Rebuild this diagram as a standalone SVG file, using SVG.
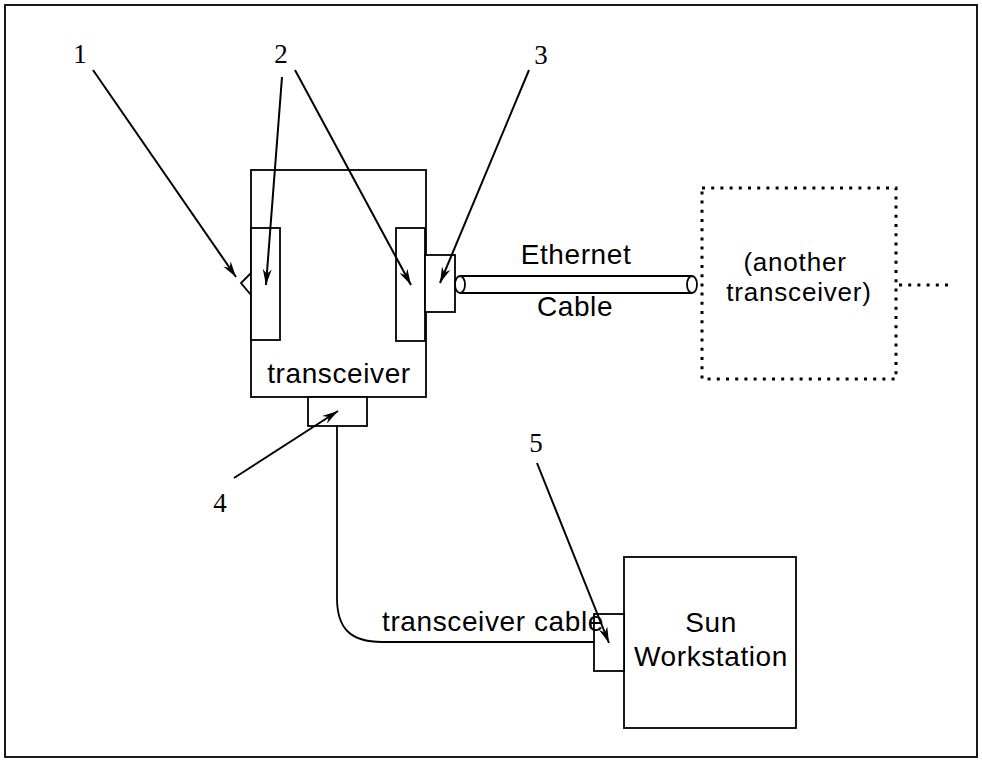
<svg xmlns="http://www.w3.org/2000/svg" width="982" height="760" viewBox="0 0 982 760">
<style>
.box{fill:#fff;stroke:#000;stroke-width:1.8}
.lbl{font-family:"Liberation Sans",Arial,sans-serif;font-size:28px;letter-spacing:0.6px;fill:#000;text-anchor:middle}
.sm{font-size:26px;letter-spacing:0.8px}
.num{font-family:"Liberation Serif","Times New Roman",serif;font-size:27px;fill:#000;text-anchor:middle}
.arr{fill:none;stroke:#000;stroke-width:2;marker-end:url(#ah)}
.dot{fill:none;stroke:#000;stroke-width:3;stroke-dasharray:3 6.2}
</style>
<defs>
<marker id="ah" markerUnits="userSpaceOnUse" markerWidth="20" markerHeight="12" viewBox="-17 -6 18 12" refX="0" refY="0" orient="auto">
<path d="M0,0 L-16,-4.5 L-11,0 L-16,4.5 Z" fill="#000"/>
</marker>
</defs>
<rect x="5" y="5" width="972" height="752" fill="#fff" stroke="#000" stroke-width="1.8"/>
<g id="transceiver">
<rect class="box" x="251" y="170" width="175" height="227"/>
<rect class="box" x="251" y="228" width="29" height="112"/>
<rect class="box" x="396" y="228" width="29" height="113"/>
<polyline points="251,273 241,283 251,295" fill="none" stroke="#000" stroke-width="1.8"/>
<text class="lbl" x="339" y="383">transceiver</text>
</g>
<g id="eth-connector"><rect class="box" x="425" y="255" width="30" height="57"/></g>
<g id="xcvr-connector"><rect class="box" x="308" y="397" width="59" height="29"/></g>
<g id="ethernet-cable">
<path d="M460,276 H692 M460,293 H692" stroke="#000" stroke-width="1.8" fill="none"/>
<ellipse cx="460" cy="284.5" rx="5" ry="8.5" fill="#fff" stroke="#000" stroke-width="1.8"/>
<ellipse cx="692" cy="284.5" rx="5" ry="8.5" fill="#fff" stroke="#000" stroke-width="1.8"/>
<text class="lbl" x="576" y="264">Ethernet</text>
<text class="lbl" x="575" y="316">Cable</text>
</g>
<g id="another-transceiver">
<rect class="dot" x="702" y="188" width="194" height="191"/>
<line class="dot" x1="899" y1="285" x2="954" y2="285"/>
<text class="lbl sm" x="795" y="271">(another</text>
<text class="lbl sm" x="799" y="301">transceiver)</text>
</g>
<g id="sun-workstation">
<rect class="box" x="624" y="557" width="172" height="171"/>
<rect class="box" x="594" y="614" width="30" height="57"/>
<text class="lbl" x="711" y="632">Sun</text>
<text class="lbl" x="711" y="666">Workstation</text>
</g>
<g id="connectors">
<path d="M337,426 V598 C337,628 350,642 382,642 H594" fill="none" stroke="#000" stroke-width="1.8"/>
<text class="lbl" x="493" y="631">transceiver cable</text>
<line class="arr" x1="93" y1="70" x2="236" y2="277"/>
<line class="arr" x1="282" y1="77" x2="266" y2="285"/>
<line class="arr" x1="295" y1="70" x2="411" y2="285"/>
<line class="arr" x1="529" y1="70" x2="440" y2="283"/>
<line class="arr" x1="234" y1="478" x2="338" y2="411"/>
<line class="arr" x1="537" y1="463" x2="609" y2="643"/>
</g>
<g id="labels">
<text class="num" x="80" y="63">1</text>
<text class="num" x="281" y="63">2</text>
<text class="num" x="541" y="64">3</text>
<text class="num" x="220" y="512">4</text>
<text class="num" x="536" y="452">5</text>
</g>
</svg>
